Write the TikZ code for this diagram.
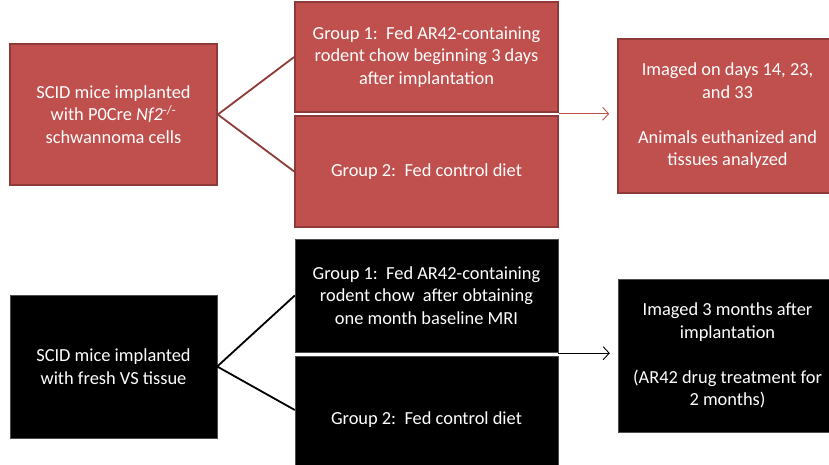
\documentclass[tikz,border=0pt]{standalone}
\usepackage{fontspec}
\setmainfont{Carlito}
\usetikzlibrary{arrows.meta}
\definecolor{redfill}{RGB}{192,80,77}
\definecolor{redline}{RGB}{142,58,56}
\tikzset{
  redbox/.style={draw=redline, line width=1.6pt, fill=redfill, text=white, align=center,
    inner sep=0pt, font=\fontsize{18.4}{22.5}\selectfont},
  blackbox/.style={draw=black!70, line width=0.4pt, fill=black, text=white, align=center,
    inner sep=0pt, font=\fontsize{18.4}{22.5}\selectfont},
  redlink/.style={draw=redline, line width=1.8pt},
  blacklink/.style={draw=black, line width=1.8pt},
  redarrow/.style={draw=redfill, line width=0.9pt, -{Straight Barb[length=6pt,width=13pt]}},
  blackarrow/.style={draw=black, line width=0.9pt, -{Straight Barb[length=6pt,width=13pt]}}
}
\begin{document}
\begin{tikzpicture}[x=1pt,y=-1pt]
\useasboundingbox (0,0) rectangle (829,465);
% top (red) part
\node[redbox, minimum width=207pt, minimum height=141pt] (A) at (113.5,114.5)
  {SCID mice implanted\\with P0Cre \textit{Nf2}\textsuperscript{-/-}\\schwannoma cells};
\node[redbox, minimum width=263pt, minimum height=110pt] (G1) at (426.5,57)
  {Group 1:\ \ Fed AR42-containing\\rodent chow beginning 3 days\\after implantation};
\node[redbox, minimum width=263pt, minimum height=111pt] (G2) at (426.5,171.5)
  {Group 2:\ \ Fed control diet};
\node[redbox, minimum width=219pt, minimum height=154pt] (R) at (727.5,116)
  {Imaged on days 14, 23,\\and 33\\[22.5pt]Animals euthanized and\\tissues analyzed};
\draw[redlink] (A.east) -- (G1.west);
\draw[redlink] (A.east) -- (G2.west);
\draw[redarrow, shorten >=8pt] ([yshift=-1pt]G1.south east) -- ([yshift=-1pt]G1.south east -| R.west);
% bottom (black) part
\node[blackbox, minimum width=207pt, minimum height=143pt] (B) at (113.5,366.5)
  {SCID mice implanted\\with fresh VS tissue};
\node[blackbox, minimum width=263pt, minimum height=113pt] (H1) at (426.5,295.5)
  {Group 1:\ \ Fed AR42-containing\\rodent chow\ \ after obtaining\\one month baseline MRI};
\node[blackbox, minimum width=263pt, minimum height=128pt] (H2) at (426.5,420)
  {Group 2:\ \ Fed control diet};
\node[blackbox, minimum width=219pt, minimum height=153pt] (S) at (727.5,355.5)
  {Imaged 3 months after\\implantation\\[22.5pt](AR42 drug treatment for\\2 months)};
\draw[blacklink] (B.east) -- (H1.west);
\draw[blacklink] (B.east) -- ([yshift=10pt]H2.west);
\draw[blackarrow, shorten >=8pt] ([yshift=-1pt]H1.south east) -- ([yshift=-1pt]H1.south east -| S.west);
\end{tikzpicture}
\end{document}
